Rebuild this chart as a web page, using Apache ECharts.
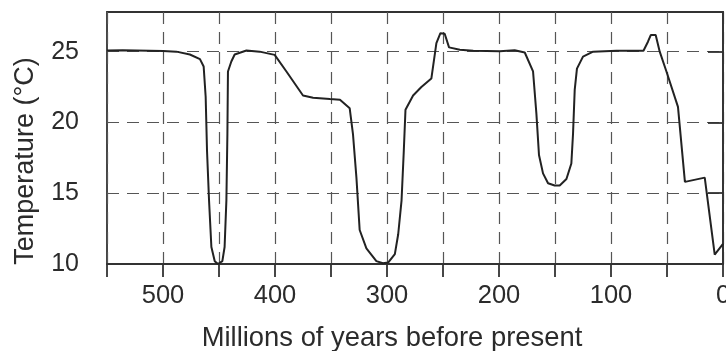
<!DOCTYPE html>
<html>
<head>
<meta charset="utf-8">
<script src="https://cdn.jsdelivr.net/npm/echarts@6/dist/echarts.min.js"></script>
<style>
html,body{margin:0;padding:0;background:#fff;}
#chart{width:726px;height:351px;}
</style>
</head>
<body>
<div id="chart"></div>
<script>
// Millions of years before present
const ages = [550, 536, 500, 488, 476, 467, 463.7, 461.9, 460.7, 458.9, 456.8, 453.8, 450.9, 447, 445, 443.4, 442.5, 442, 439, 436, 425.5, 413.7, 400.3, 389.8, 375, 366, 351, 342, 333.3, 330.4, 327.3, 324.4, 318.4, 309.5, 303.6, 299, 293, 290, 287, 285, 283.5, 276.7, 269.3, 260.4, 255.9, 252.3, 248.5, 244.6, 235, 223, 199.4, 186, 177, 169.6, 166.6, 164.3, 160.7, 156.2, 150.3, 145.8, 139.8, 135.4, 133.9, 132.4, 130.4, 125, 116, 95.2, 71, 67, 64.5, 60.1, 56.5, 50.5, 40.2, 34, 16.3, 7.4, 0];
// Temperature (°C)
const temps = [25.08, 25.1, 25.05, 25.0, 24.8, 24.47, 23.95, 21.8, 18.0, 14.5, 11.2, 10.2, 10.0, 10.2, 11.2, 14.5, 19.2, 23.6, 24.3, 24.8, 25.08, 25.0, 24.77, 23.6, 21.9, 21.75, 21.65, 21.6, 21.0, 19.2, 16.1, 12.4, 11.1, 10.2, 10.05, 10.1, 10.7, 12.1, 14.5, 18.0, 20.9, 21.9, 22.5, 23.1, 25.6, 26.3, 26.26, 25.3, 25.13, 25.06, 25.03, 25.1, 24.94, 23.6, 20.6, 17.7, 16.4, 15.7, 15.55, 15.55, 16.0, 17.1, 19.2, 22.3, 23.8, 24.65, 25.0, 25.06, 25.06, 25.7, 26.17, 26.17, 25.0, 23.6, 21.1, 15.8, 16.1, 10.66, 11.42];
const xTicks = [0, 100, 200, 300, 400, 500];
const yTicks = [10, 15, 20, 25];

const series = ages.map((a, i) => [a, temps[i]]);
const chart = echarts.init(document.getElementById('chart'), null, {renderer: 'canvas'});
const txt = '#2b2b2b';
const font = 'Liberation Sans, Arial, Helvetica, sans-serif';
chart.setOption({
  animation: false,
  backgroundColor: '#ffffff',
  grid: {left: 107, right: 3, top: 12, bottom: 87, containLabel: false, outerBoundsMode: 'none',
    show: true, borderColor: '#333', borderWidth: 1.8, backgroundColor: 'transparent'},
  xAxis: {
    type: 'value', inverse: true, min: 0, max: 550, interval: 50,
    name: 'Millions of years before present', nameLocation: 'middle', nameGap: 61,
    nameTextStyle: {fontFamily: font, fontSize: 27.4, color: txt, padding: [0, 46, 0, 0]},
    axisLine: {show: true, lineStyle: {color: '#333', width: 1.8}},
    axisTick: {show: true, length: 13, lineStyle: {color: '#333', width: 1.8}},
    axisLabel: {margin: 19, fontFamily: font, fontSize: 25.5, color: txt,
      formatter: v => xTicks.includes(v) ? String(v) : ''},
    splitLine: {show: true, lineStyle: {color: '#555', width: 1.2, type: [12, 8]}}
  },
  yAxis: {
    type: 'value', min: 10, max: 27.8, interval: 5,
    name: 'Temperature (°C)', nameLocation: 'middle', nameGap: 68, nameRotate: 90,
    nameTextStyle: {fontFamily: font, fontSize: 27, color: txt, padding: [0, 46, 0, 0]},
    axisLine: {show: true, lineStyle: {color: '#333', width: 1.8}},
    axisTick: {show: true, length: 15, customValues: yTicks, lineStyle: {color: '#333', width: 1.8}},
    axisLabel: {margin: 28, fontFamily: font, fontSize: 25, color: txt, customValues: yTicks,
      formatter: v => yTicks.includes(v) ? String(v) : ''},
    splitLine: {show: true, lineStyle: {color: '#555', width: 1.2, type: [12, 8]}}
  },
  series: [{
    type: 'line', data: series, showSymbol: false, symbol: 'none',
    lineStyle: {color: '#222', width: 2}, smooth: false
  }]
});
</script>
</body>
</html>
